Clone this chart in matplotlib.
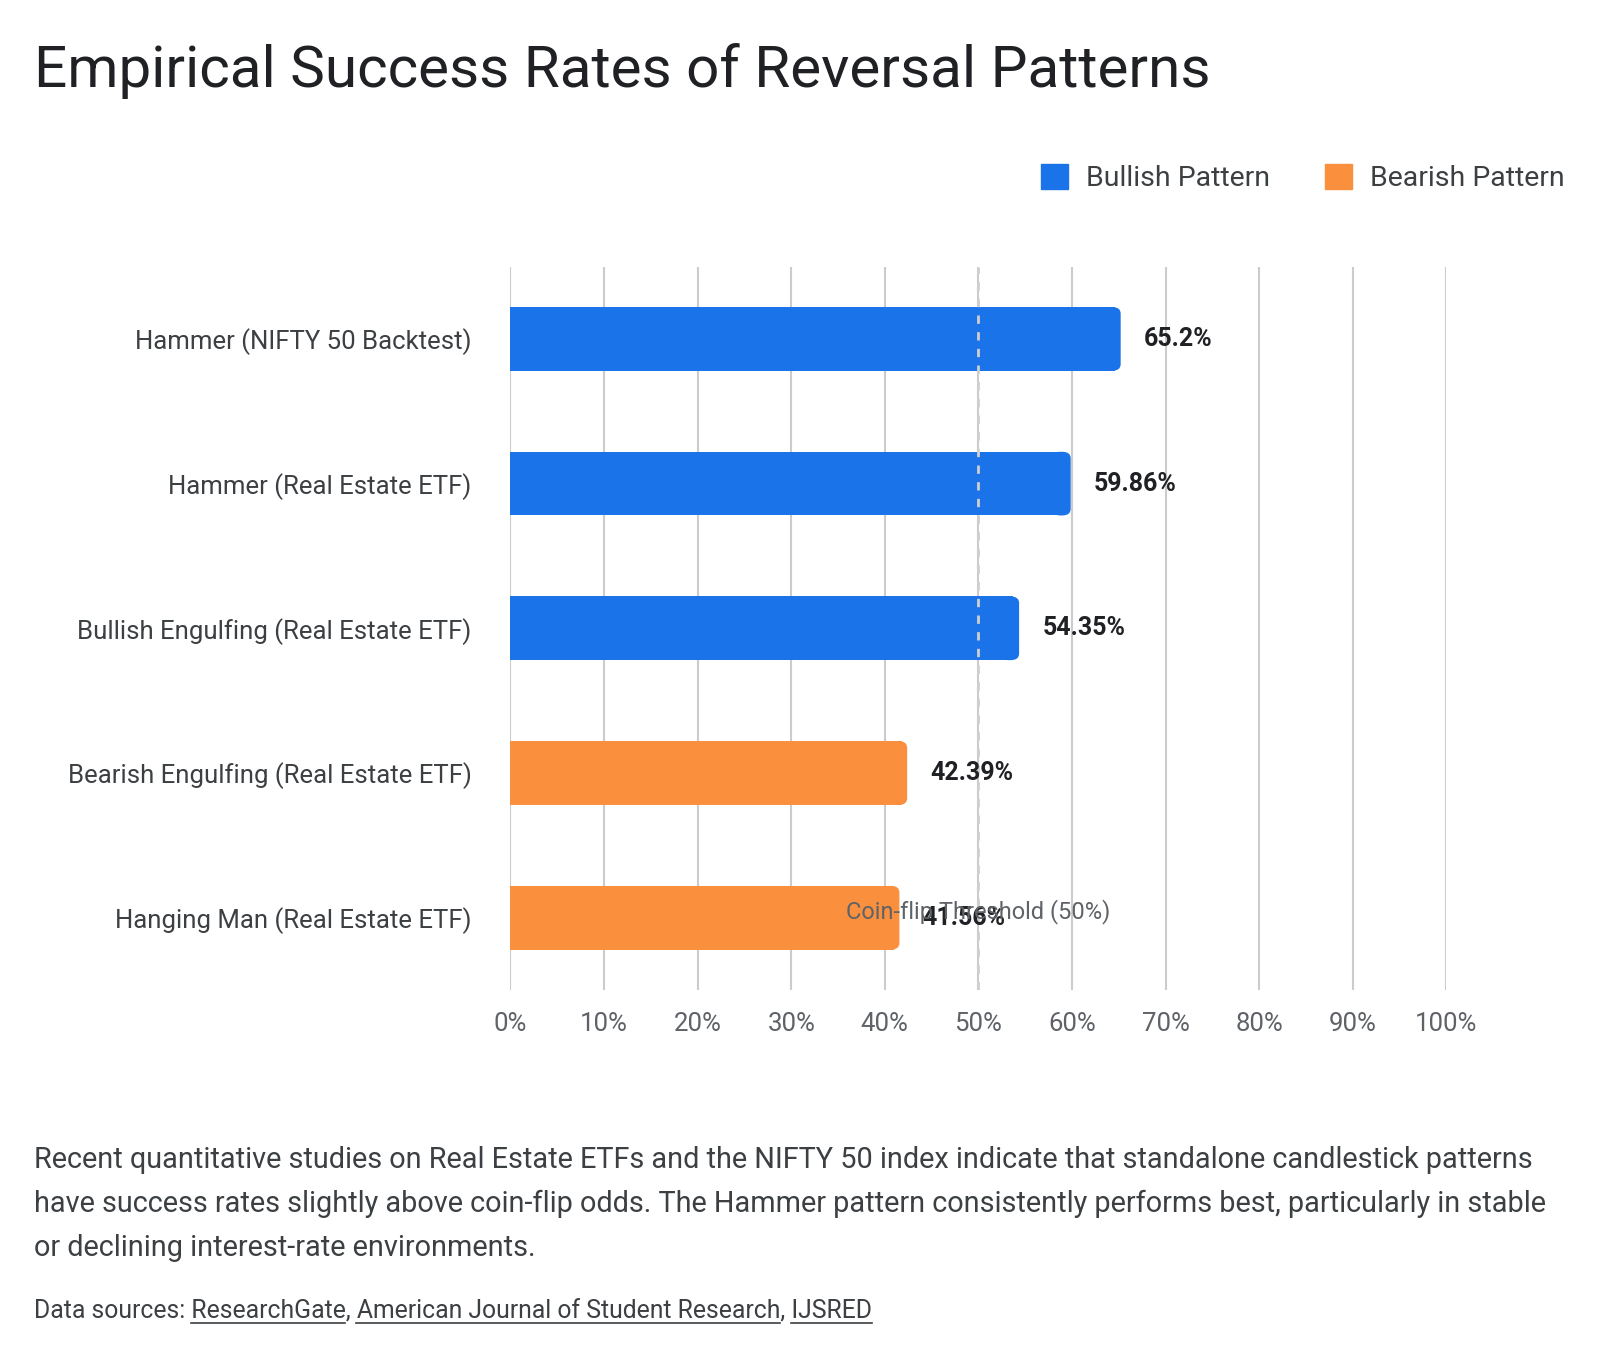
import numpy as np
import matplotlib.pyplot as plt
from matplotlib.patches import FancyBboxPatch, Patch

plt.rcParams['font.family'] = ['Roboto', 'DejaVu Sans']

categories = ['Hammer (NIFTY 50 Backtest)', 'Hammer (Real Estate ETF)',
              'Bullish Engulfing (Real Estate ETF)', 'Bearish Engulfing (Real Estate ETF)',
              'Hanging Man (Real Estate ETF)']
values = [65.2, 59.86, 54.35, 42.39, 41.56]
labels = ['65.2%', '59.86%', '54.35%', '42.39%', '41.56%']
kinds = ['Bullish', 'Bullish', 'Bullish', 'Bearish', 'Bearish']
threshold = 50
xticks = [0, 10, 20, 30, 40, 50, 60, 70, 80, 90, 100]
sources = ['ResearchGate', 'American Journal of Student Research', 'IJSRED']

BLUE = '#1a73e8'
ORANGE = '#fa903e'
colors = {'Bullish': BLUE, 'Bearish': ORANGE}

fig = plt.figure(figsize=(16, 13.6), dpi=100)
ax = fig.add_axes([0.319, 0.272, 0.585, 0.532])

y = np.arange(len(categories))
h = 0.44
for yi, v, k in zip(y, values, kinds):
    # square left end, rounded right end
    ax.barh(yi, v - 0.6, height=h, color=colors[k], zorder=2)
    ax.add_patch(FancyBboxPatch((v - 2.0, yi - h / 2), 2.0, h,
                                boxstyle='round,pad=0,rounding_size=0.9',
                                mutation_aspect=0.05,
                                fc=colors[k], ec='none', zorder=2))

for yi, v, lab in zip(y, values, labels):
    ax.text(v + 2.5, yi, lab, va='center', ha='left', fontsize=18,
            fontweight='bold', color='#202124', zorder=4)

ax.axvline(threshold, color='#cfcfcf', lw=2, ls=(0, (3, 3)), zorder=3)
ax.text(threshold, 3.96, 'Coin-flip Threshold (50%)', ha='center', va='center',
        fontsize=17, color='#5f6368', zorder=5)

ax.set_xlim(0, 100)
ax.set_ylim(len(categories) - 0.5, -0.5)
ax.set_xticks(xticks)
ax.set_xticklabels([f'{t}%' for t in xticks], fontsize=18.5, color='#5f6368')
ax.set_yticks(y)
ax.set_yticklabels(categories, fontsize=18.5, color='#3c4043')
ax.tick_params(axis='both', length=0)
ax.tick_params(axis='x', pad=16)
ax.tick_params(axis='y', pad=28)
ax.grid(axis='x', color='#cccccc', lw=1.5, zorder=0)
ax.set_axisbelow(True)
for s in ax.spines.values():
    s.set_visible(False)

fig.text(0.021, 0.948, 'Empirical Success Rates of Reversal Patterns',
         fontsize=42, color='#202124', va='center', ha='left')

handles = [Patch(color=BLUE, label='Bullish Pattern'),
           Patch(color=ORANGE, label='Bearish Pattern')]
leg = fig.legend(handles=handles, loc='center right', bbox_to_anchor=(0.994, 0.869),
                 ncol=2, frameon=False, fontsize=20.5, handlelength=0.95,
                 handleheight=0.95, handletextpad=0.65, columnspacing=1.9)
for t in leg.get_texts():
    t.set_color('#3c4043')

para = ('Recent quantitative studies on Real Estate ETFs and the NIFTY 50 index indicate that standalone candlestick patterns\n'
        'have success rates slightly above coin-flip odds. The Hammer pattern consistently performs best, particularly in stable\n'
        'or declining interest-rate environments.')
fig.text(0.021, 0.115, para, fontsize=20.8, color='#3c4043', va='center', ha='left',
         linespacing=1.72)

# source line with underlined links
fs = 17.8
src_y = 0.036
prefix = 'Data sources: '
full = prefix + ', '.join(sources)
fig.text(0.021, src_y, full, fontsize=fs, color='#3c4043', va='center', ha='left')

fig.canvas.draw()
r = fig.canvas.get_renderer()
W = fig.bbox.width


def width(s):
    tt = fig.text(0, 0, s, fontsize=fs)
    w = tt.get_window_extent(renderer=r).width
    tt.remove()
    return w


space = width('a a') - width('aa')
pos = 0.021 * W + width('Data sources:') + space
for i, s in enumerate(sources):
    w = width(s)
    fig.add_artist(plt.Line2D([pos / W, (pos + w) / W], [src_y - 0.009] * 2,
                              color='#3c4043', lw=1.2))
    pos += w + width(',') + space

fig.savefig('out.png', dpi=100, facecolor='white')
